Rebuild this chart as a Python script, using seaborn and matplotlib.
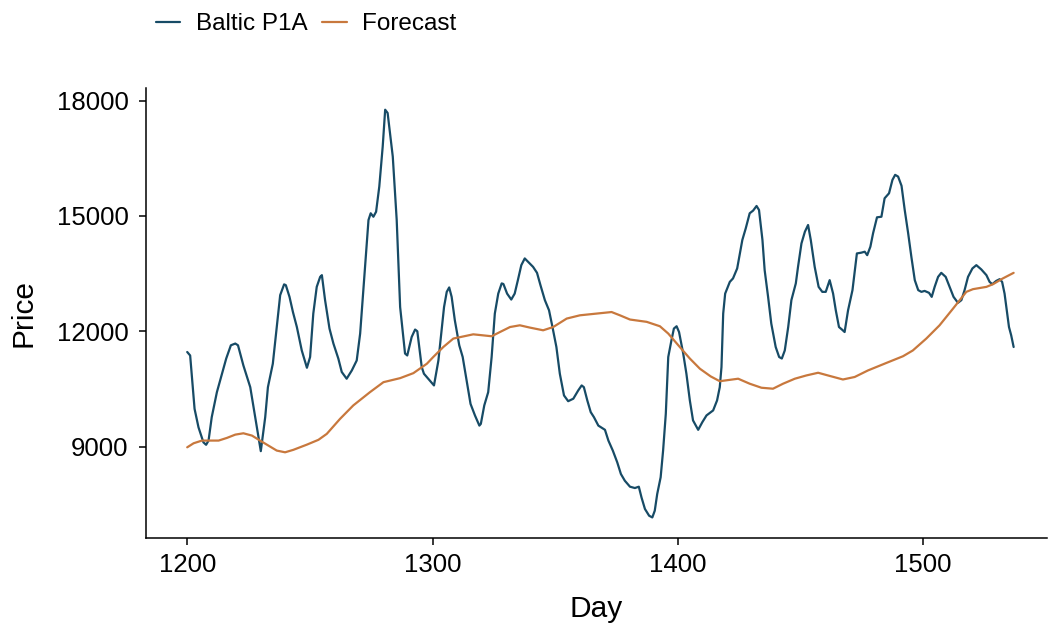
import numpy as np
import pandas as pd
import matplotlib
matplotlib.use("Agg")
import matplotlib.pyplot as plt
import seaborn as sns

baltic_day = [1200, 1201.2, 1203, 1204.6, 1206.6, 1207.7, 1208.7, 1210, 1212.1, 1213.8, 1215.9, 1217.8,
              1219.6, 1220.7, 1222.9, 1225.7, 1227.7, 1230, 1231.8, 1232.9, 1234.9, 1236.5, 1237.9,
              1239.5, 1240.2, 1241.7, 1243.1, 1244.7, 1246.7, 1248.8, 1250.1, 1251.4, 1252.8, 1254.2,
              1254.9, 1256.2, 1258, 1259.6, 1261.6, 1263, 1265, 1267.1, 1269.1, 1270.5, 1272.1, 1273.9,
              1274.8, 1275.9, 1277, 1278.3, 1279.7, 1280.7, 1281.7, 1283.8, 1285.4, 1286.8, 1288.8,
              1289.7, 1291.5, 1292.9, 1293.8, 1295.6, 1296.5, 1300.6, 1302.4, 1304.7, 1305.8, 1306.8,
              1307.8, 1309.1, 1310.9, 1312.3, 1313.9, 1315.5, 1317.3, 1319.1, 1319.7, 1321.1, 1322.7,
              1324.1, 1325.4, 1326.8, 1328.2, 1328.9, 1330.4, 1332.1, 1333.5, 1334.8, 1336.2, 1337.6,
              1338.9, 1341, 1342.6, 1344, 1345.8, 1347.5, 1348.9, 1350.5, 1351.9, 1353.6, 1355.3, 1357.4,
              1359.4, 1360.8, 1361.7, 1363.1, 1364.5, 1365.8, 1367.6, 1370.3, 1371.7, 1373.5, 1375.3,
              1376.8, 1378.4, 1380.5, 1382.5, 1384.1, 1385.2, 1386.6, 1388.3, 1389.6, 1390.6, 1391.6,
              1393, 1394, 1395.1, 1396.1, 1397.4, 1398.4, 1399.5, 1400.5, 1402.2, 1403.5, 1404.9, 1406.2,
              1408.3, 1410, 1411.7, 1414.4, 1416, 1417.1, 1417.8, 1418.5, 1419.3, 1421.2, 1422.5, 1424.2,
              1425.3, 1426.3, 1427.7, 1429.3, 1430.7, 1432.1, 1433.1, 1434.5, 1435.4, 1436.8, 1438.1,
              1439.9, 1441.3, 1442.4, 1443.6, 1445, 1446.3, 1448.1, 1449, 1450.4, 1451.8, 1453.1, 1454.2,
              1455.8, 1457.4, 1458.9, 1460.3, 1461.9, 1463.3, 1464.4, 1465.7, 1466.9, 1468, 1469.4,
              1471.2, 1473, 1474.8, 1476.2, 1477.2, 1478.5, 1479.6, 1481.2, 1483, 1484.3, 1486.1, 1487.5,
              1488.6, 1489.8, 1491.2, 1492.5, 1493.9, 1495.2, 1496.6, 1498, 1499.3, 1500.6, 1502.4,
              1503.5, 1504.7, 1506.1, 1507.4, 1509.2, 1510.8, 1512.4, 1514.2, 1515.6, 1516.9, 1518.3,
              1520.1, 1521.7, 1523.7, 1525.8, 1527.1, 1528.2, 1529.8, 1531.2, 1532.2, 1533.2, 1534.1,
              1535, 1535.9, 1536.9]
baltic_price = [11460, 11370, 9980, 9500, 9110, 9045, 9155, 9765, 10415, 10810, 11290, 11635,
                11680, 11635, 11110, 10545, 9765, 8880, 9765, 10545, 11155, 12110, 12940,
                13220, 13200, 12895, 12500, 12110, 11500, 11050, 11330, 12460, 13155, 13415,
                13460, 12810, 12070, 11680, 11290, 10940, 10765, 10980, 11240, 11940, 13330, 14895,
                15070, 14980, 15110, 15765, 16810, 17765, 17680, 16545, 14895, 12630, 11420,
                11370, 11850, 12045, 12000, 11070, 10895, 10590, 11240, 12630, 13025, 13140,
                12895, 12285, 11635, 11330, 10720, 10110, 9810, 9545, 9590, 10070, 10415,
                11330, 12460, 12980, 13245, 13230, 12980, 12825, 12980, 13330, 13720, 13895,
                13810, 13675, 13520, 13200, 12810, 12545, 12110, 11590, 10895, 10330, 10180, 10245,
                10460, 10590, 10545, 10200, 9895, 9765, 9545, 9435, 9155, 8895, 8590,
                8285, 8110, 7955, 7920, 7955, 7675, 7375, 7200, 7155, 7330, 7765,
                8200, 8895, 9850, 11330, 11765, 12070, 12130, 11980, 11420, 10895, 10200, 9680,
                9435, 9635, 9810, 9940, 10200, 10545, 11070, 12460, 12980, 13285, 13375, 13635,
                14025, 14375, 14680, 15070, 15140, 15260, 15155, 14375, 13590, 12895, 12200,
                11590, 11330, 11290, 11500, 12110, 12810, 13245, 13675, 14285, 14590, 14765, 14375,
                13675, 13155, 13025, 13025, 13330, 12980, 12545, 12110, 12045, 11980, 12545,
                13070, 14025, 14045, 14070, 13980, 14200, 14550, 14965, 14980, 15460, 15590, 15940,
                16070, 16025, 15785, 15155, 14550, 13940, 13330, 13070, 13025, 13050, 13000,
                12895, 13155, 13415, 13520, 13415, 13155, 12895, 12740, 12810, 13070, 13415,
                13635, 13720, 13610, 13460, 13285, 13225, 13310, 13355, 13285, 12980, 12545,
                12110, 11895, 11590]

forecast_day = [1200, 1202.6, 1206, 1212.8, 1216.2, 1219.6, 1222.9, 1226.4, 1229.7, 1233.1, 1236.5,
                1239.9, 1243.3, 1248.8, 1253.5, 1256.9, 1262.3, 1267.7, 1274.5, 1280, 1286.8, 1292.2,
                1297.7, 1300.3, 1304.4, 1308.5, 1316.6, 1324.1, 1327.5, 1331.6, 1335.6, 1339.7, 1345.1,
                1349.2, 1354.7, 1360.1, 1366.9, 1373, 1376.4, 1380.5, 1387.3, 1392.7, 1396.1, 1400.2,
                1404.9, 1409, 1413.4, 1417.1, 1424.6, 1429.3, 1434.1, 1438.8, 1442.9, 1447.7, 1452.4,
                1457.2, 1461.2, 1467.3, 1472.1, 1477.5, 1485, 1491.8, 1495.8, 1501.3, 1506.7, 1512.2,
                1517.6, 1520.3, 1525.8, 1528.5, 1532.5, 1536.9]
forecast_price = [8980, 9085, 9155, 9155, 9225, 9310, 9345, 9285, 9155, 9025, 8895,
                  8850, 8915, 9050, 9175, 9330, 9720, 10070, 10415, 10675, 10780, 10910,
                  11155, 11330, 11590, 11810, 11920, 11870, 11980, 12110, 12155, 12095, 12025,
                  12110, 12330, 12415, 12460, 12500, 12415, 12305, 12245, 12130, 11940, 11635,
                  11290, 11025, 10825, 10700, 10765, 10635, 10530, 10505, 10635, 10765, 10850,
                  10920, 10850, 10745, 10810, 10980, 11175, 11350, 11500, 11810, 12155, 12590,
                  13025, 13095, 13155, 13225, 13375, 13520]

series_names = ["Baltic P1A", "Forecast"]
colors = ["#174B66", "#C8783D"]
x_ticks = [1200, 1300, 1400, 1500]
y_ticks = [9000, 12000, 15000, 18000]

df = pd.concat([
    pd.DataFrame({"Day": baltic_day, "Price": baltic_price, "Series": series_names[0]}),
    pd.DataFrame({"Day": forecast_day, "Price": forecast_price, "Series": series_names[1]}),
], ignore_index=True)

sns.set_theme(style="ticks")
plt.rcParams["font.family"] = ["Liberation Sans", "DejaVu Sans"]
plt.rcParams["text.color"] = "black"

fig = plt.figure(figsize=(10.49, 6.25), dpi=100)
ax = fig.add_axes([146/1049, 1 - 538/625, (1047-146)/1049, (538-88)/625])

sns.lineplot(data=df, x="Day", y="Price", hue="Series", palette=colors,
             hue_order=series_names, linewidth=1.6, ax=ax, sort=True, estimator=None)

ax.set_xlim(1183.2, 1550.5)
ax.set_ylim(6620, 18330)
ax.set_xticks(x_ticks)
ax.set_yticks(y_ticks)
for s in ["top", "right"]:
    ax.spines[s].set_visible(False)
for s in ["left", "bottom"]:
    ax.spines[s].set_linewidth(1.1)
    ax.spines[s].set_color("black")
ax.tick_params(axis="both", which="major", length=5, width=1.1, color="black",
               labelsize=18.5, labelcolor="black")
ax.tick_params(axis="y", pad=7.5)
ax.tick_params(axis="x", pad=6)
ax.set_xlabel("Day", fontsize=21.5, color="black", labelpad=13)
ax.set_ylabel("Price", fontsize=21.5, color="black", labelpad=14)

handles, labels = ax.get_legend_handles_labels()
ax.legend_.remove()
leg = fig.legend(handles, labels, loc="center left", bbox_to_anchor=(156/1049, 1 - 24/625),
                 ncol=2, frameon=False, fontsize=17.5, handlelength=1.0, handletextpad=0.65,
                 columnspacing=0.6, borderaxespad=0, borderpad=0)
for t in leg.get_texts():
    t.set_color("black")

fig.savefig("out.png", dpi=100)
